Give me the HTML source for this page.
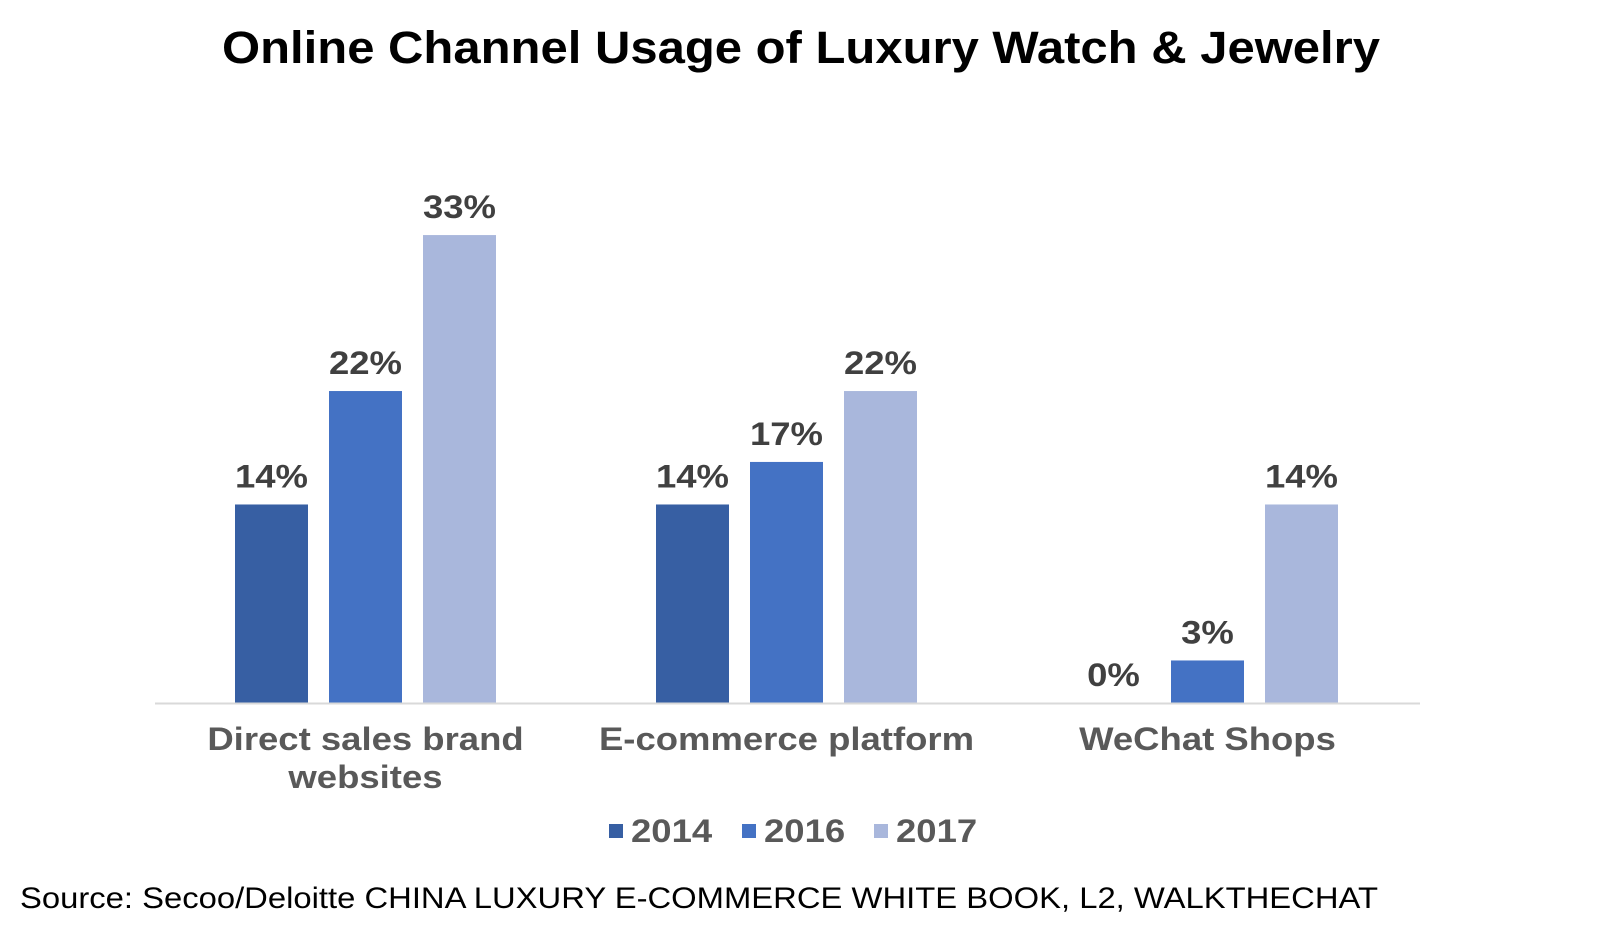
<!DOCTYPE html>
<html><head><meta charset="utf-8"><style>
body{margin:0;background:#fff;width:1597px;height:952px;overflow:hidden;font-family:"Liberation Sans",Arial,sans-serif}
svg{display:block}
</style></head><body>
<svg id="chart" width="1597" height="952">
<text x="801" y="63" text-anchor="middle" font-size="45" font-weight="bold" fill="#000" textLength="1158" lengthAdjust="spacingAndGlyphs">Online Channel Usage of Luxury Watch &amp; Jewelry</text>
<g id="bars"></g>
<line x1="155" y1="703.5" x2="1420" y2="703.5" stroke="#d9d9d9" stroke-width="2"/>
<g id="legend"></g>
<text x="20" y="908" font-size="30" fill="#000" textLength="1358" lengthAdjust="spacingAndGlyphs">Source: Secoo/Deloitte CHINA LUXURY E-COMMERCE WHITE BOOK, L2, WALKTHECHAT</text>
</svg>
<script>
const categories=[["Direct sales brand","websites"],["E-commerce platform"],["WeChat Shops"]];
const seriesNames=["2014","2016","2017"];
const values2014=[14,14,0];
const values2016=[22,17,3];
const values2017=[33,22,14];
const colors=["#375FA3","#4472C4","#A9B7DC"];
const NS="http://www.w3.org/2000/svg";
const x0=155,catW=421,base=703,pxPer=14.18,barW=73,step=94;
const WIDEN=1.14;
function yScale(v){return base-v*pxPer;}
function catCenter(i){return x0+catW*i+catW/2;}
function widen(t){
  const w=t.getComputedTextLength();
  t.setAttribute('textLength',w*WIDEN);
  t.setAttribute('lengthAdjust','spacingAndGlyphs');
}
const g=document.getElementById('bars');
const all=[values2014,values2016,values2017];
categories.forEach((c,i)=>{
  all.forEach((vals,s)=>{
    const cx=catCenter(i)+(s-1)*step;
    const v=vals[i];
    const r=document.createElementNS(NS,'rect');
    r.setAttribute('x',cx-barW/2);r.setAttribute('y',yScale(v));
    r.setAttribute('width',barW);r.setAttribute('height',base-yScale(v));
    r.setAttribute('fill',colors[s]);
    
    
    g.appendChild(r);
    const t=document.createElementNS(NS,'text');
    t.setAttribute('x',cx);t.setAttribute('y',yScale(v)-17);
    t.setAttribute('text-anchor','middle');t.setAttribute('font-size','32');
    t.setAttribute('font-weight','bold');t.setAttribute('fill','#404040');
    t.textContent=v+'%';
    
    
    g.appendChild(t);
    widen(t);
  });
  c.forEach((line,k)=>{
    const t=document.createElementNS(NS,'text');
    t.setAttribute('x',catCenter(i));t.setAttribute('y',750+k*38);
    t.setAttribute('text-anchor','middle');t.setAttribute('font-size','32');
    t.setAttribute('font-weight','bold');t.setAttribute('fill','#595959');
    t.textContent=line;
    
    
    g.appendChild(t);
    widen(t);
  });
});
const lg=document.getElementById('legend');
const lx=[609,742,874];
seriesNames.forEach((n,s)=>{
  const r=document.createElementNS(NS,'rect');
  r.setAttribute('x',lx[s]);r.setAttribute('y',824);r.setAttribute('width',14);r.setAttribute('height',14);
  r.setAttribute('fill',colors[s]);
  
  
  lg.appendChild(r);
  const t=document.createElementNS(NS,'text');
  t.setAttribute('x',lx[s]+22);t.setAttribute('y',842);
  t.setAttribute('font-size','32');t.setAttribute('font-weight','bold');t.setAttribute('fill','#595959');
  t.textContent=n;
  
  
  lg.appendChild(t);
  widen(t);
});
</script>
</body></html>
